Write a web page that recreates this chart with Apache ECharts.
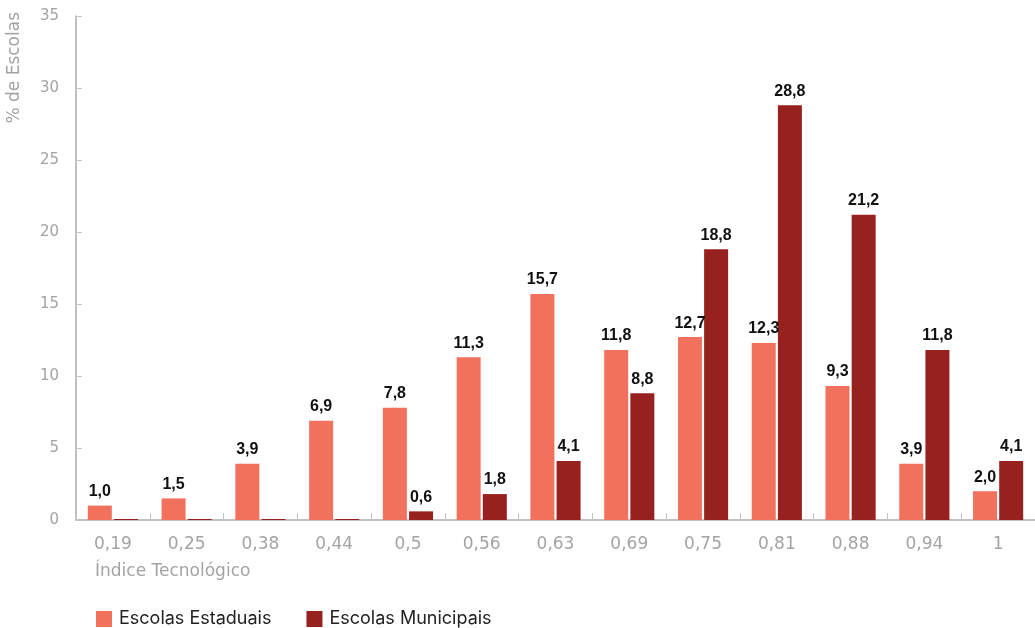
<!DOCTYPE html>
<html>
<head>
<meta charset="utf-8">
<script src="https://cdn.jsdelivr.net/npm/echarts@6/dist/echarts.min.js"></script>
<style>
  html, body { margin: 0; padding: 0; background: #fff; }
  #chart { width: 1035px; height: 628px; }
</style>
</head>
<body>
<div id="chart"></div>
<script>
// Índice tecnológico das escolas, por rede
const categories = ['0,19', '0,25', '0,38', '0,44', '0,5', '0,56', '0,63', '0,69', '0,75', '0,81', '0,88', '0,94', '1'];
const estaduais = [1.0, 1.5, 3.9, 6.9, 7.8, 11.3, 15.7, 11.8, 12.7, 12.3, 9.3, 3.9, 2.0];
const municipais = [0, 0, 0, 0, 0.6, 1.8, 4.1, 8.8, 18.8, 28.8, 21.2, 11.8, 4.1];
const yTicks = [0, 5, 10, 15, 20, 25, 30, 35];

const AXIS_FONT = '"DejaVu Sans", sans-serif';
const LABEL_FONT = '"Liberation Sans", Arial, sans-serif';
const GRAY = '#a3a3a3';

const valueLabel = {
  show: true,
  position: 'top',
  distance: 6,
  color: '#111',
  fontFamily: LABEL_FONT,
  fontWeight: 'bold',
  fontSize: 16,
  formatter: p => p.value === 0 ? '' : p.value.toFixed(1).replace('.', ',')
};

const chart = echarts.init(document.getElementById('chart'), null, { renderer: 'canvas' });
chart.setOption({
  animation: false,
  backgroundColor: '#fff',
  grid: { left: 76, right: 0, top: 16, bottom: 108, containLabel: false },
  legend: {
    left: 96, top: 610, padding: 0,
    itemWidth: 16, itemHeight: 16, itemGap: 35,
    icon: 'rect',
    textStyle: { fontFamily: 'Inter, sans-serif', fontSize: 18, color: '#222', padding: [0, 0, 0, 2] },
    data: ['Escolas Estaduais', 'Escolas Municipais']
  },
  xAxis: {
    type: 'category',
    data: categories,
    axisLine: { lineStyle: { color: '#aaa', width: 1.5 } },
    axisTick: { show: true, inside: true, length: 7, lineStyle: { color: '#c4c4c4' } },
    axisLabel: { color: GRAY, fontFamily: AXIS_FONT, fontSize: 17, margin: 16 }
  },
  yAxis: {
    type: 'value',
    min: yTicks[0], max: yTicks[yTicks.length - 1], interval: 5,
    axisLine: { show: true, lineStyle: { color: '#aaa', width: 1.5 } },
    axisTick: { show: true, inside: true, length: 6, lineStyle: { color: '#c4c4c4' } },
    splitLine: { show: false },
    axisLabel: { color: GRAY, fontFamily: AXIS_FONT, fontSize: 15, margin: 17 }
  },
  graphic: [
    {
      type: 'text', left: 6, top: 12, rotation: Math.PI / 2,
      style: { text: '% de Escolas', fill: GRAY, font: '17px ' + AXIS_FONT }
    },
    {
      type: 'text', left: 95, top: 563,
      style: { text: 'Índice Tecnológico', fill: GRAY, font: '17px ' + AXIS_FONT }
    }
  ],
  series: [
    {
      name: 'Escolas Estaduais', type: 'bar', data: estaduais,
      barWidth: 24, barGap: '9%',
      itemStyle: { color: '#f2715d' },
      label: valueLabel
    },
    {
      name: 'Escolas Municipais', type: 'bar', data: municipais,
      barWidth: 24, barMinHeight: 1,
      itemStyle: { color: '#96211f' },
      label: valueLabel
    }
  ]
});
</script>
</body>
</html>
